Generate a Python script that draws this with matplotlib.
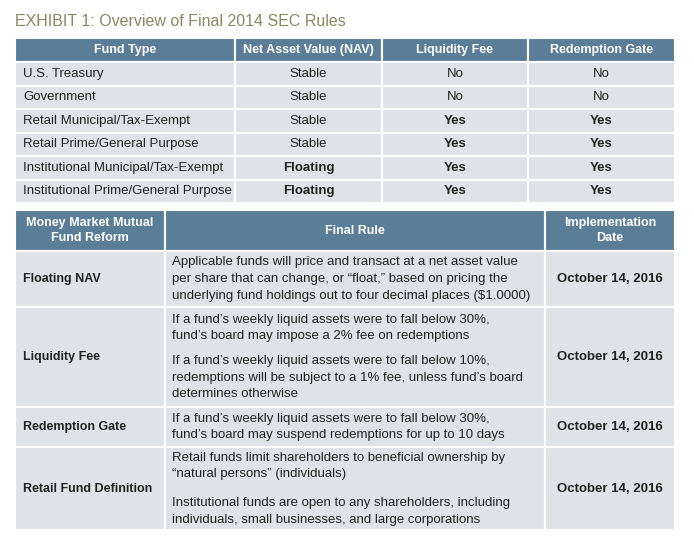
import matplotlib.pyplot as plt
from matplotlib.patches import Rectangle

# data
title = "EXHIBIT 1: Overview of Final 2014 SEC Rules"
t1_header = ["Fund Type", "Net Asset Value (NAV)", "Liquidity Fee", "Redemption Gate"]
fund_types = ["U.S. Treasury", "Government", "Retail Municipal/Tax-Exempt",
              "Retail Prime/General Purpose", "Institutional Municipal/Tax-Exempt",
              "Institutional Prime/General Purpose"]
nav = ["Stable", "Stable", "Stable", "Stable", "Floating", "Floating"]
liq_fee = ["No", "No", "Yes", "Yes", "Yes", "Yes"]
red_gate = ["No", "No", "Yes", "Yes", "Yes", "Yes"]

t2_header = ["Money Market Mutual\nFund Reform", "Final Rule", "Implementation\nDate"]
reforms = ["Floating NAV", "Liquidity Fee", "Redemption Gate", "Retail Fund Definition"]
rules = [
    ["Applicable funds will price and transact at a net asset value\n"
     "per share that can change, or \u201cfloat,\u201d based on pricing the\n"
     "underlying fund holdings out to four decimal places ($1.0000)"],
    ["If a fund\u2019s weekly liquid assets were to fall below 30%,\n"
     "fund\u2019s board may impose a 2% fee on redemptions",
     "If a fund\u2019s weekly liquid assets were to fall below 10%,\n"
     "redemptions will be subject to a 1% fee, unless fund\u2019s board\n"
     "determines otherwise"],
    ["If a fund\u2019s weekly liquid assets were to fall below 30%,\n"
     "fund\u2019s board may suspend redemptions for up to 10 days"],
    ["Retail funds limit shareholders to beneficial ownership by\n"
     "\u201cnatural persons\u201d (individuals)",
     "Institutional funds are open to any shareholders, including\n"
     "individuals, small businesses, and large corporations"],
]
dates = ["October 14, 2016"] * 4

HEAD = "#5b7e98"
ROW = "#dfe3e7"
TITLE_C = "#8b8762"
TXT = "#222222"
FONT = ["Liberation Sans", "DejaVu Sans"]

fig = plt.figure(figsize=(6.94, 5.39), dpi=100)
ax = fig.add_axes([0, 0, 1, 1])
ax.set_xlim(0, 694)
ax.set_ylim(539, 0)
ax.axis("off")

def cell(x0, x1, y0, y1, color):
    ax.add_patch(Rectangle((x0, y0), x1 - x0, y1 - y0, facecolor=color,
                           edgecolor="white", linewidth=1.5))

ax.text(15, 21, title, fontsize=11.5, color=TITLE_C, va="center", family=FONT)

# table 1
cols1 = [15, 235, 382, 528, 675]
cell_h = 23.5
for i, h in enumerate(t1_header):
    cell(cols1[i], cols1[i + 1], 38, 62, HEAD)
    ax.text((cols1[i] + cols1[i + 1]) / 2, 50.5, h, color="white", fontsize=9,
            fontweight="bold", ha="center", va="center", family=FONT)
y = 62
for r in range(len(fund_types)):
    y1 = y + cell_h
    for i in range(4):
        cell(cols1[i], cols1[i + 1], y, y1, ROW)
    ym = (y + y1) / 2
    ax.text(23, ym, fund_types[r], fontsize=9.5, color=TXT, va="center", family=FONT)
    for i, v in enumerate([nav[r], liq_fee[r], red_gate[r]]):
        bold = v in ("Floating", "Yes")
        ax.text((cols1[i + 1] + cols1[i + 2]) / 2, ym, v, fontsize=9.5, color=TXT,
                ha="center", va="center", family=FONT,
                fontweight="bold" if bold else "normal")
    y = y1

# table 2
cols2 = [15, 165, 545, 675]
for i, h in enumerate(t2_header):
    cell(cols2[i], cols2[i + 1], 210, 251, HEAD)
    ax.text((cols2[i] + cols2[i + 1]) / 2, 230.5, h, color="white", fontsize=9,
            fontweight="bold", ha="center", va="center", family=FONT, linespacing=1.3)
row_edges = [251, 307, 407, 447, 530]
para_top = [0, 7, 0, 5]
para_gap = [0, 7, 0, 11]
LS = 1.5
for r in range(len(reforms)):
    y0, y1 = row_edges[r], row_edges[r + 1]
    for i in range(3):
        cell(cols2[i], cols2[i + 1], y0, y1, ROW)
    ym = (y0 + y1) / 2
    ax.text(23, ym, reforms[r], fontsize=9, color=TXT, fontweight="bold",
            va="center", family=FONT)
    ax.text((cols2[2] + cols2[3]) / 2, ym, dates[r], fontsize=9.5, color=TXT,
            fontweight="bold", ha="center", va="center", family=FONT)
    parts = rules[r]
    if len(parts) == 1:
        ax.text(172, ym, parts[0], fontsize=9.5, color=TXT, va="center",
                family=FONT, linespacing=LS)
    else:
        top = y0 + para_top[r]
        for p in parts:
            ax.text(172, top, p, fontsize=9.5, color=TXT, va="top",
                    family=FONT, linespacing=LS)
            top += (p.count("\n") + 1) * 17 + para_gap[r]

fig.savefig("out.png", dpi=100)
